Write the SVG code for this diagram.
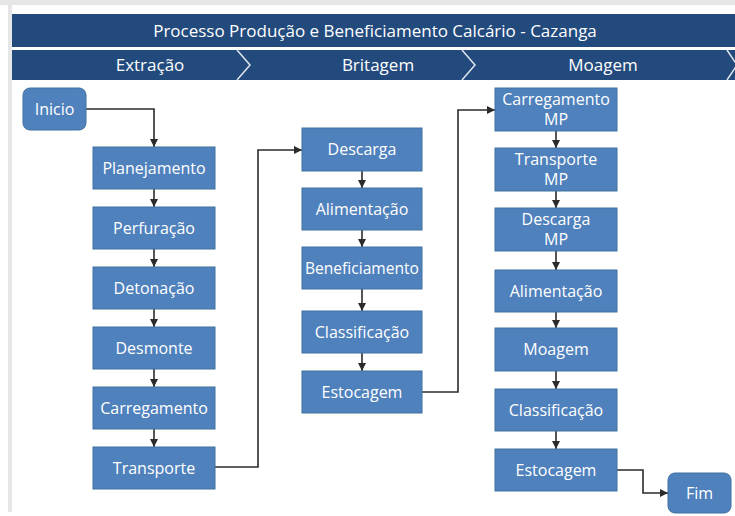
<svg xmlns="http://www.w3.org/2000/svg" width="735" height="516" viewBox="0 0 735 516">
<defs>
<style>
.box{fill:#4f81bd;stroke:#41709f;stroke-width:1}
.t{font-family:"Open Sans","Liberation Sans",sans-serif;font-size:16px;fill:#ffffff;text-anchor:middle}
.h{font-family:"Open Sans","Liberation Sans",sans-serif;font-size:17px;fill:#ffffff;text-anchor:middle}
.c{fill:none;stroke:#2b2b2b;stroke-width:1.6}
.sep{fill:none;stroke:#dfe6ef;stroke-width:1.5}
</style>
<marker id="ah" viewBox="0 0 10 10" refX="10" refY="5" markerWidth="8" markerHeight="8" markerUnits="userSpaceOnUse" orient="auto">
<path d="M0,0 L10,5 L0,10 z" fill="#2b2b2b"/>
</marker>
</defs>
<rect x="0" y="0" width="735" height="516" fill="#ffffff"/>
<rect x="0" y="0" width="735" height="5" fill="#e6e6e6"/>
<rect x="8" y="5" width="4" height="507" fill="#e6e6e6"/>

<g id="header">
<rect x="12" y="14" width="723" height="33" fill="#224a7c"/>
<text class="h" x="375" y="37">Processo Produção e Beneficiamento Calcário - Cazanga</text>
<rect x="12" y="50" width="723" height="30" fill="#224a7c"/>
<polyline class="sep" points="237,50 250,65 237,80"/>
<polyline class="sep" points="462,50 475,65 462,80"/>
<polyline class="sep" points="727,50 737,65 727,80"/>
<text class="h" x="150" y="71">Extração</text>
<text class="h" x="378" y="71">Britagem</text>
<text class="h" x="603" y="71">Moagem</text>
</g>

<g id="connectors">
<path class="c" d="M86,109 H154 V147" marker-end="url(#ah)"/>
<path class="c" d="M154,189 V207" marker-end="url(#ah)"/>
<path class="c" d="M154,249 V267" marker-end="url(#ah)"/>
<path class="c" d="M154,309 V327" marker-end="url(#ah)"/>
<path class="c" d="M154,369 V387" marker-end="url(#ah)"/>
<path class="c" d="M154,429 V447" marker-end="url(#ah)"/>
<path class="c" d="M215,467 H258 V150 H302" marker-end="url(#ah)"/>
<path class="c" d="M362,171 V188" marker-end="url(#ah)"/>
<path class="c" d="M362,230 V247" marker-end="url(#ah)"/>
<path class="c" d="M362,289 V311" marker-end="url(#ah)"/>
<path class="c" d="M362,353 V371" marker-end="url(#ah)"/>
<path class="c" d="M422,392 H458 V110 H495" marker-end="url(#ah)"/>
<path class="c" d="M556,131 V148" marker-end="url(#ah)"/>
<path class="c" d="M556,191 V208" marker-end="url(#ah)"/>
<path class="c" d="M556,251 V270" marker-end="url(#ah)"/>
<path class="c" d="M556,312 V328" marker-end="url(#ah)"/>
<path class="c" d="M556,371 V389" marker-end="url(#ah)"/>
<path class="c" d="M556,431 V449" marker-end="url(#ah)"/>
<path class="c" d="M617,470 H643 V493 H668" marker-end="url(#ah)"/>
</g>

<g id="inicio"><rect class="box" x="23" y="88" width="63" height="42" rx="7"/><text class="t" x="54.5" y="115">Inicio</text></g>

<g id="planejamento"><rect class="box" x="93" y="147" width="122" height="42"/><text class="t" x="154" y="174">Planejamento</text></g>
<g id="perfuracao"><rect class="box" x="93" y="207" width="122" height="42"/><text class="t" x="154" y="234">Perfuração</text></g>
<g id="detonacao"><rect class="box" x="93" y="267" width="122" height="42"/><text class="t" x="154" y="294">Detonação</text></g>
<g id="desmonte"><rect class="box" x="93" y="327" width="122" height="42"/><text class="t" x="154" y="354">Desmonte</text></g>
<g id="carregamento"><rect class="box" x="93" y="387" width="122" height="42"/><text class="t" x="154" y="414">Carregamento</text></g>
<g id="transporte"><rect class="box" x="93" y="447" width="122" height="42"/><text class="t" x="154" y="474">Transporte</text></g>

<g id="descarga"><rect class="box" x="302" y="128" width="120" height="43"/><text class="t" x="362" y="155">Descarga</text></g>
<g id="alimentacao1"><rect class="box" x="302" y="188" width="120" height="42"/><text class="t" x="362" y="215">Alimentação</text></g>
<g id="beneficiamento"><rect class="box" x="302" y="247" width="120" height="42"/><text class="t" x="362" y="274" textLength="114" lengthAdjust="spacingAndGlyphs">Beneficiamento</text></g>
<g id="classificacao1"><rect class="box" x="302" y="311" width="120" height="42"/><text class="t" x="362" y="338">Classificação</text></g>
<g id="estocagem1"><rect class="box" x="302" y="371" width="120" height="42"/><text class="t" x="362" y="398">Estocagem</text></g>

<g id="carregamento-mp"><rect class="box" x="495" y="88" width="122" height="43"/><text class="t" x="556" y="105">Carregamento</text><text class="t" x="556" y="125">MP</text></g>
<g id="transporte-mp"><rect class="box" x="495" y="148" width="122" height="43"/><text class="t" x="556" y="165">Transporte</text><text class="t" x="556" y="185">MP</text></g>
<g id="descarga-mp"><rect class="box" x="495" y="208" width="122" height="43"/><text class="t" x="556" y="225">Descarga</text><text class="t" x="556" y="245">MP</text></g>
<g id="alimentacao2"><rect class="box" x="495" y="270" width="122" height="42"/><text class="t" x="556" y="297">Alimentação</text></g>
<g id="moagem"><rect class="box" x="495" y="328" width="122" height="43"/><text class="t" x="556" y="355">Moagem</text></g>
<g id="classificacao2"><rect class="box" x="495" y="389" width="122" height="42"/><text class="t" x="556" y="416">Classificação</text></g>
<g id="estocagem2"><rect class="box" x="495" y="449" width="122" height="42"/><text class="t" x="556" y="476">Estocagem</text></g>

<g id="fim"><rect class="box" x="668" y="473" width="63" height="40" rx="7"/><text class="t" x="699.5" y="499">Fim</text></g>
</svg>
